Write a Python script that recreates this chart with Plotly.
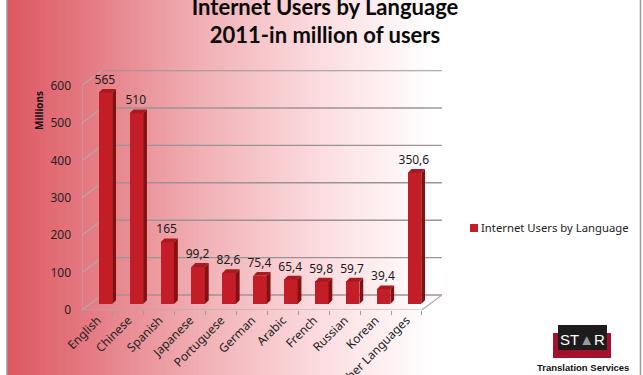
import plotly.graph_objects as go

categories = ["English", "Chinese", "Spanish", "Japanese", "Portuguese", "German",
              "Arabic", "French", "Russian", "Korean", "Other Languages"]
users = [565, 510, 165, 99.2, 82.6, 75.4, 65.4, 59.8, 59.7, 39.4, 350.6]
y_ticks = [0, 100, 200, 300, 400, 500, 600]
series_name = "Internet Users by Language"
title_lines = ["Internet Users by Language", "2011-in million of users"]

W, H = 643, 375
def px(x): return x / W
def py(y): return 1 - y / H

# axes geometry
X0, X1, Y0, Y1 = 82, 443, 310, 70.2
unit_x = 30.9
unit_y = 0.374
xmax = (X1 - X0) / unit_x
ymax = (Y0 - Y1) / unit_y
n = len(categories)
DX = 20 / unit_x    # wall depth
DY = 15 / unit_y
BASE = 6 / unit_y   # bars stand on the floor, a little behind the front edge
BAR_W = 13.5 / unit_x
BAR_C = 0.76
SIDE_X = 3.8 / unit_x
SIDE_Y = 3.8 / unit_y

shapes = []
# background gradient
stops = [(0.0, (221, 88, 98)), (0.2, (229, 124, 132)), (0.45, (240, 175, 180)),
         (0.75, (252, 222, 225)), (1.0, (255, 255, 255))]
def mix(t):
    for (a, ca), (b, cb) in zip(stops, stops[1:]):
        if t <= b:
            f = (t - a) / (b - a)
            return "rgb(%d,%d,%d)" % tuple(round(p + (q - p) * f) for p, q in zip(ca, cb))
    return "rgb(255,255,255)"
GX0, GX1 = 7, 430
steps = 141
for k in range(steps):
    a = GX0 + (GX1 - GX0) * k / steps
    b = GX0 + (GX1 - GX0) * (k + 1) / steps + 0.6
    shapes.append(dict(type="rect", xref="paper", yref="paper", x0=px(a), x1=px(b), y0=0, y1=1,
                       fillcolor=mix(k / steps), line_width=0, layer="below"))
for xb in (7, 640.5):
    shapes.append(dict(type="line", xref="paper", yref="paper", x0=px(xb), x1=px(xb), y0=0, y1=1,
                       line=dict(color="#9a9a9a", width=1.5), layer="below"))

grid = dict(color="#9c9494", width=1.4)
wall = dict(color="#b5a8a8", width=1.2)
def seg(x0, y0, x1, y1, line):
    shapes.append(dict(type="line", xref="x", yref="y", x0=x0, y0=y0, x1=x1, y1=y1, line=line, layer="below"))
for v in y_ticks:
    seg(DX, v + DY, n + DX, v + DY, grid)
    seg(0, v, DX, v + DY, wall)
seg(0, 0, 0, y_ticks[-1], wall)
seg(0, 0, n, 0, wall)
seg(n, 0, n + DX, DY, wall)

# logo and legend swatch
def rect(x0, y0, x1, y1, col):
    shapes.append(dict(type="rect", xref="paper", yref="paper", x0=px(x0), x1=px(x1), y0=py(y1), y1=py(y0),
                       fillcolor=col, line_width=0, layer="below"))
rect(553, 333, 611, 358, "#a5102f")
rect(558, 325, 607, 350, "#1d1b1b")
rect(470, 224, 478, 232, "#c31d27")

fig = go.Figure()
xs = [i + BAR_C for i in range(n)]
tops = [BASE + v for v in users]

fig.add_trace(go.Bar(x=xs, y=users, base=[BASE] * n, width=BAR_W, showlegend=False,
                     marker=dict(color="#c31d27", line_width=0), hoverinfo="skip"))
# side faces
sx, sy, cx, cy = [], [], [], []
for x, t in zip(xs, tops):
    r = x + BAR_W / 2
    l = x - BAR_W / 2
    sx += [r, r + SIDE_X, r + SIDE_X, r, None]
    sy += [BASE, BASE + SIDE_Y, t + SIDE_Y, t, None]
    cx += [l, l + SIDE_X, r + SIDE_X, r, None]
    cy += [t, t + SIDE_Y, t + SIDE_Y, t, None]
fig.add_trace(go.Scatter(x=sx, y=sy, mode="lines", fill="toself", fillcolor="#84110f", line_width=0,
                         showlegend=False, hoverinfo="skip"))
fig.add_trace(go.Scatter(x=cx, y=cy, mode="lines", fill="toself", fillcolor="#a81a1f", line_width=0,
                         showlegend=False, hoverinfo="skip"))
# data labels
fig.add_trace(go.Scatter(x=[x - 0.02 for x in xs], y=[t + 32 for t in tops], mode="text",
                         text=[str(v).replace(".", ",") for v in users],
                         textfont=dict(family="Noto Sans", size=12, color="#1a1a1a"),
                         textposition="middle center", showlegend=False, hoverinfo="skip", cliponaxis=False))
# legend entry (its swatch is drawn beside the text, closer than the legend's own spacing)
fig.add_trace(go.Scatter(x=[None], y=[None], mode="markers", name=series_name,
                         marker=dict(symbol="square", size=8, color="rgba(0,0,0,0)")))

fig.update_layout(
    width=W, height=H, margin=dict(l=0, r=0, t=0, b=0), paper_bgcolor="white", plot_bgcolor="rgba(0,0,0,0)",
    font=dict(family="Noto Sans", size=12, color="#222222"),
    shapes=shapes, bargap=0,
    title=dict(text="<br>".join(title_lines), x=px(325), xref="paper", xanchor="center",
               y=py(14.5), yref="paper", yanchor="middle", automargin=False,
               font=dict(family="Lato", size=22, color="#0a0a0a", weight="bold")),
    xaxis=dict(domain=[px(X0), px(X1)], range=[0, xmax], tickmode="array", automargin=False,
               tickvals=[i + 0.5 for i in range(n)], ticktext=categories, ticks="", tickangle=-45,
               showgrid=False, zeroline=False, showline=False,
               tickfont=dict(family="Noto Sans", size=12, color="#222222"),
               minor=dict(tickmode="array", tickvals=list(range(n + 1)), ticks="outside", ticklen=4,
                          tickcolor="#a09898", showgrid=False)),
    yaxis=dict(domain=[py(Y0), py(Y1)], range=[0, ymax], tickmode="array", tickvals=y_ticks, automargin=False,
               ticks="", showgrid=False, zeroline=False, showline=False, ticklabelstandoff=10,
               tickfont=dict(family="Noto Sans", size=12, color="#222222")),
    legend=dict(x=px(454), y=py(228), xanchor="left", yanchor="middle", bgcolor="rgba(0,0,0,0)",
                font=dict(family="Noto Sans", size=11.3, color="#222222"), indentation=-13),
    annotations=[
        dict(text="<b>Millions</b>", xref="paper", yref="paper", x=px(39), y=py(111), showarrow=False,
             xanchor="center", yanchor="middle",
             textangle=-90, font=dict(family="Noto Sans", size=10, color="#111111")),
        dict(text="ST<span style='color:#9a9a9a'>▲</span>R", xref="paper", yref="paper", x=px(582.5), y=py(339),
             xanchor="center", yanchor="middle",
             showarrow=False, font=dict(family="Liberation Sans", size=15, color="white")),
        dict(text="<b>Translation Services</b>", xref="paper", yref="paper", x=px(583), y=py(367), showarrow=False,
             xanchor="center", yanchor="middle",
             font=dict(family="Liberation Sans", size=9.5, color="#111111")),
    ],
)
fig.write_html("out.html", config=dict(displayModeBar=False),
               post_script="document.body.style.margin='0';document.documentElement.style.overflow='hidden';")
